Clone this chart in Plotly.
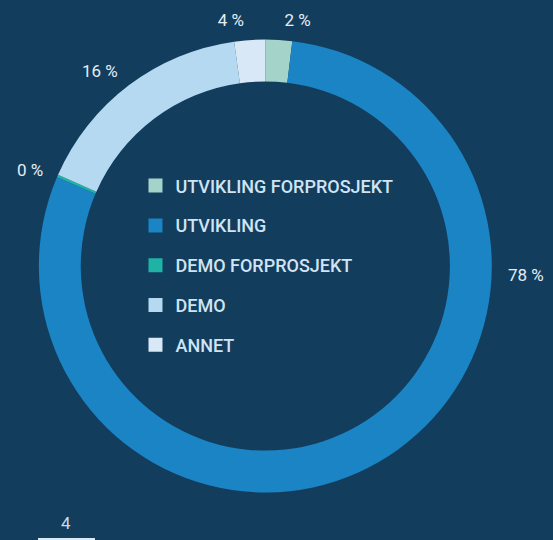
import plotly.graph_objects as go

# ---- data ----
categories = ["UTVIKLING FORPROSJEKT", "UTVIKLING", "DEMO FORPROSJEKT", "DEMO", "ANNET"]
shares = [1.9, 79.5, 0.2, 16.2, 2.2]            # slice sizes as drawn
pct_labels = ["2 %", "78 %", "0 %", "16 %", "4 %"]  # printed labels
colors = ["#a3d3c9", "#1b84c4", "#1fb3a6", "#b6d9f2", "#d9e8f7"]
page_number = "4"

BG = "#133d5d"
TXT = "#e3edf6"
LEG_TXT = "#d0e4f4"
FONT = "Roboto, 'Open Sans', sans-serif"

# ring geometry (paper fractions)
cx, cy = 0.4798, 0.5074
rx, ry = 0.4096, 0.4194          # ring outer radius
lab_rx, lab_ry = 0.4277, 0.4380  # radius used for placing the outside labels

positions = ["none" if c == "UTVIKLING" else "outside" for c in categories]

fig = go.Figure()

# transparent pie carrying only the outside labels (slightly larger radius)
fig.add_trace(go.Pie(
    labels=categories,
    values=shares,
    customdata=pct_labels,
    texttemplate="%{customdata}",
    textposition=positions,
    outsidetextfont=dict(family=FONT, size=17, color=TXT),
    hole=0.9,
    sort=False,
    direction="clockwise",
    rotation=0,
    marker=dict(colors=["rgba(0,0,0,0)"] * len(categories), line=dict(width=0)),
    domain=dict(x=[cx - lab_rx, cx + lab_rx], y=[cy - lab_ry, cy + lab_ry]),
    showlegend=False,
    hoverinfo="skip",
))

# visible ring
fig.add_trace(go.Pie(
    labels=categories,
    values=shares,
    textinfo="none",
    hole=0.815,
    sort=False,
    direction="clockwise",
    rotation=0,
    marker=dict(colors=colors, line=dict(width=0)),
    domain=dict(x=[cx - rx, cx + rx], y=[cy - ry, cy + ry]),
    showlegend=False,
    hoverinfo="label+percent",
))

# legend entries (one group each so rows can be spaced)
for cat, col in zip(categories, colors):
    fig.add_trace(go.Scatter(
        x=[None], y=[None], mode="markers", name=cat,
        marker=dict(symbol="square", size=14, color=col),
        legendgroup=cat, showlegend=True,
    ))

# label for the big slice, placed at the right of the ring
i_big = categories.index("UTVIKLING")
fig.add_annotation(
    x=cx + rx, y=cy, xref="paper", yref="paper",
    text=pct_labels[i_big], showarrow=False, xanchor="left", yanchor="middle",
    xshift=14, yshift=-9, font=dict(family=FONT, size=17, color=TXT),
)

# page number with underline
fig.add_annotation(
    x=0.12, y=0.0, xref="paper", yref="paper", text=page_number,
    showarrow=False, xanchor="center", yanchor="bottom", yshift=5,
    font=dict(family=FONT, size=17, color="#c4dbee"),
)
fig.add_shape(type="rect", xref="paper", yref="paper",
              x0=0.0687, x1=0.1718, y0=0.0, y1=0.0037,
              line=dict(width=0), fillcolor="#d9e8f7")

fig.update_layout(
    width=553, height=540,
    margin=dict(l=0, r=0, t=0, b=0),
    paper_bgcolor=BG, plot_bgcolor=BG,
    xaxis=dict(visible=False), yaxis=dict(visible=False),
    legend=dict(
        x=0.245, y=0.69, xanchor="left", yanchor="top",
        bgcolor="rgba(0,0,0,0)", tracegroupgap=13.4,
        font=dict(family=FONT, size=18, color=LEG_TXT, weight=500),
        itemclick=False, itemdoubleclick=False,
    ),
    font=dict(family=FONT),
)

fig.write_html(
    "out.html",
    config={"displayModeBar": False},
    post_script="document.body.style.margin='0';document.body.style.background='%s';" % BG,
)
